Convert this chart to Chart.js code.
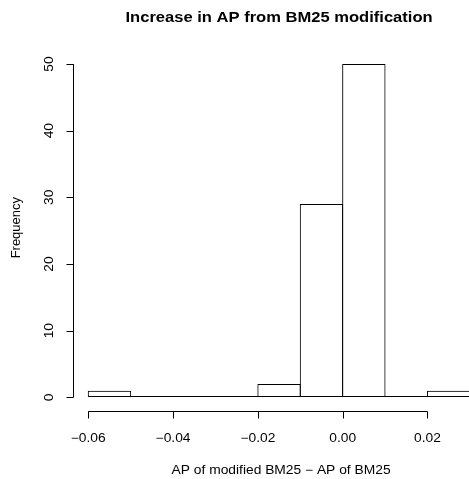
<!DOCTYPE html>
<html>
<head>
<meta charset="utf-8">
<script src="https://cdn.jsdelivr.net/npm/chart.js@4.4.0/dist/chart.umd.min.js"></script>
<style>
  html, body { margin: 0; padding: 0; background: #fff; }
  #wrap { width: 469px; height: 479px; }
</style>
</head>
<body>
<div id="wrap"><canvas id="myChart" width="469" height="479"></canvas></div>
<script>
// histogram of AP differences
const binEdges = [-0.06, -0.05, -0.04, -0.03, -0.02, -0.01, 0.00, 0.01, 0.02, 0.03];
const counts = [1, 0, 0, 0, 2, 29, 50, 0, 1];
const xTicks = [-0.06, -0.04, -0.02, 0.00, 0.02];
const yTicks = [0, 10, 20, 30, 40, 50];
const xLabels = ['\u22120.06', '\u22120.04', '\u22120.02', '0.00', '0.02'];

const titleText = 'Increase in AP from BM25 modification';
const xTitle = 'AP of modified BM25 \u2212 AP of BM25';
const yTitle = 'Frequency';

const FONT = '"Liberation Sans", Arial, Helvetica, sans-serif';

const bars = counts.map((c, i) => ({ x: (binEdges[i] + binEdges[i + 1]) / 2, y: c }));

// text helper: x,y is the anchor, rot in radians, stretched horizontally
// (reference glyphs are a bit wider than Liberation Sans)
function drawText(ctx, txt, x, y, rot, widen) {
    ctx.save();
    ctx.translate(x, y);
    if (rot) ctx.rotate(rot);
    ctx.scale(widen || 1.15, 1);
    ctx.fillText(txt, 0, 0);
    ctx.restore();
}

// R style axes, drawn off the chart's own scales
const rAxes = {
    id: 'rAxes',
    afterDraw(chart) {
        const ctx = chart.ctx;
        const xs = chart.scales.x;
        const ys = chart.scales.y;
        const area = chart.chartArea;
        ctx.save();
        ctx.strokeStyle = '#000';
        ctx.fillStyle = '#000';
        ctx.lineWidth = 1;

        // baseline under all bins (zero-count bins too)
        const y0 = Math.round(ys.getPixelForValue(0)) - 0.5;
        ctx.beginPath();
        ctx.moveTo(xs.getPixelForValue(binEdges[0]), y0);
        ctx.lineTo(Math.min(xs.getPixelForValue(binEdges[binEdges.length - 1]), area.right + 2), y0);
        ctx.stroke();

        // x axis
        const xa = Math.round(area.bottom) + 0.5;
        ctx.beginPath();
        ctx.moveTo(xs.getPixelForValue(xTicks[0]), xa);
        ctx.lineTo(xs.getPixelForValue(xTicks[xTicks.length - 1]), xa);
        xTicks.forEach(v => {
            const px = Math.round(xs.getPixelForValue(v)) + 0.5;
            ctx.moveTo(px, xa);
            ctx.lineTo(px, xa + 7);
        });
        ctx.stroke();
        ctx.font = '12px ' + FONT;
        ctx.textAlign = 'center';
        ctx.textBaseline = 'alphabetic';
        xTicks.forEach((v, i) => {
            drawText(ctx, xLabels[i], xs.getPixelForValue(v), 442, 0);
        });

        // y axis
        const ya = Math.round(area.left) + 0.5;
        ctx.beginPath();
        ctx.moveTo(ya, ys.getPixelForValue(yTicks[0]));
        ctx.lineTo(ya, ys.getPixelForValue(yTicks[yTicks.length - 1]));
        yTicks.forEach(v => {
            const py = Math.round(ys.getPixelForValue(v)) + 0.5;
            ctx.moveTo(ya, py);
            ctx.lineTo(ya - 7, py);
        });
        ctx.stroke();
        yTicks.forEach(v => {
            drawText(ctx, String(v), 53, ys.getPixelForValue(v), -Math.PI / 2);
        });

        // axis titles
        const plotMid = (area.left + xs.getPixelForValue(0.0336)) / 2;
        drawText(ctx, xTitle, plotMid + 2, 474, 0);
        drawText(ctx, yTitle, 20, (area.top + area.bottom) / 2 - 3, -Math.PI / 2, 1.08);

        // main title
        ctx.font = 'bold 14.4px ' + FONT;
        drawText(ctx, titleText, plotMid, 22, 0);
        ctx.restore();
    }
};

const ctx = document.getElementById('myChart').getContext('2d');
new Chart(ctx, {
    type: 'bar',
    data: {
        datasets: [{
            data: bars,
            backgroundColor: 'rgba(0,0,0,0)',
            borderColor: '#000',
            borderWidth: 1,
            borderSkipped: 'start',
            barPercentage: 1.0236,
            categoryPercentage: 1
        }]
    },
    options: {
        responsive: false,
        animation: false,
        events: [],
        layout: {
            padding: { left: 73, right: 0, top: 50.7, bottom: 68.3 }
        },
        plugins: {
            legend: { display: false },
            tooltip: { enabled: false },
            title: { display: false }
        },
        scales: {
            x: {
                type: 'linear',
                offset: false,
                min: -0.0636,
                max: 0.0298,
                display: false
            },
            y: {
                min: -2,
                max: 52,
                display: false
            }
        }
    },
    plugins: [rAxes]
});
</script>
</body>
</html>
